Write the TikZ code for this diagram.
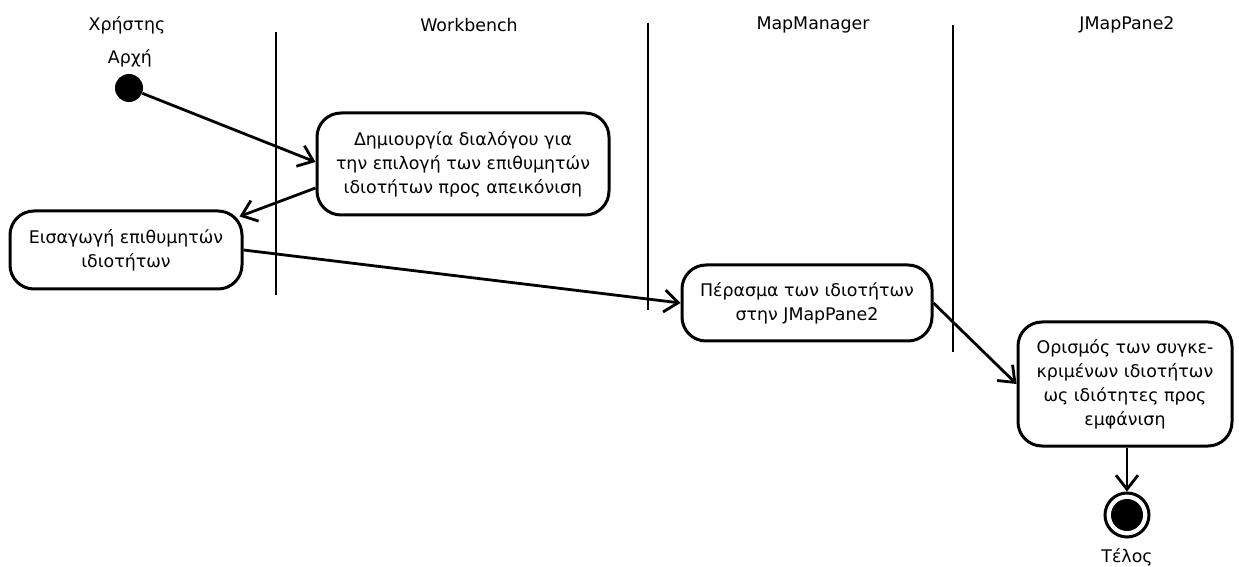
\documentclass[tikz,border=0pt]{standalone}
\usepackage{fontspec}
\setmainfont{DejaVu Sans}
\usetikzlibrary{arrows.meta}
\usetikzlibrary{positioning}

\begin{document}
\begin{tikzpicture}[x=0.5pt, y=-0.5pt,
        txt/.style={font=\fontsize{8.7}{12}\selectfont},
        action/.style={txt, draw, line width=1.5pt, rounded corners=12pt,
                       align=center, inner sep=0pt},
        flow/.style={line width=1.4pt, -{Straight Barb[length=7pt,width=11pt]}},
        lane/.style={line width=1.4pt}]
        \useasboundingbox (0,0) rectangle (1239,567);
        % swimlanes
        \foreach \name/\x in {Χρήστης/127, Workbench/469, MapManager/813, JMapPane2/1127} {
           \node[txt] (lane-\name) at (\x,25) {\name};
        }
        \draw[lane] (276,32) -- (276,295);
        \draw[lane] (648,23) -- (648,310);
        \draw[lane] (953,25) -- (953,352);
        % start and end
        \node[txt] (startlab) at (130,58) {Αρχή};
        \node[circle, fill, minimum size=14pt, inner sep=0pt] (start) at (129,88) {};
        \node[circle, draw, line width=1.5pt, minimum size=22pt, inner sep=0pt] (end) at (1127,515) {};
        \node[circle, fill, minimum size=16pt, inner sep=0pt] (endcore) at (end) {};
        \node[txt] (endlab) at (1127,557) {Τέλος};
        % actions
        \node[action, minimum width=146pt, minimum height=51pt] (dialog) at (463,164)
           {Δημιουργία διαλόγου για\\την επιλογή των επιθυμητών\\ιδιοτήτων προς απεικόνιση};
        \node[action, minimum width=116pt, minimum height=39pt] (input) at (126,250)
           {Εισαγωγή επιθυμητών\\ιδιοτήτων};
        \node[action, minimum width=125pt, minimum height=38pt] (pass) at (807,303)
           {Πέρασμα των ιδιοτήτων\\στην JMapPane2};
        \node[action, minimum width=107pt, minimum height=62pt] (set) at (1125,384)
           {Ορισμός των συγκε-\\κριμένων ιδιοτήτων\\ως ιδιότητες προς\\εμφάνιση};
        % flows
        \draw[flow] (start) -- ([yshift=1pt]dialog.west);
        \draw[flow] ([yshift=-12pt]dialog.west) -- ([xshift=-2pt,yshift=-3.5pt]input.north east);
        \draw[flow] (input.east) -- (pass.west);
        \draw[flow] (pass.east) -- (set.west);
        \draw[flow] (set.south -| end) -- (end.north);
      \end{tikzpicture}
\end{document}
